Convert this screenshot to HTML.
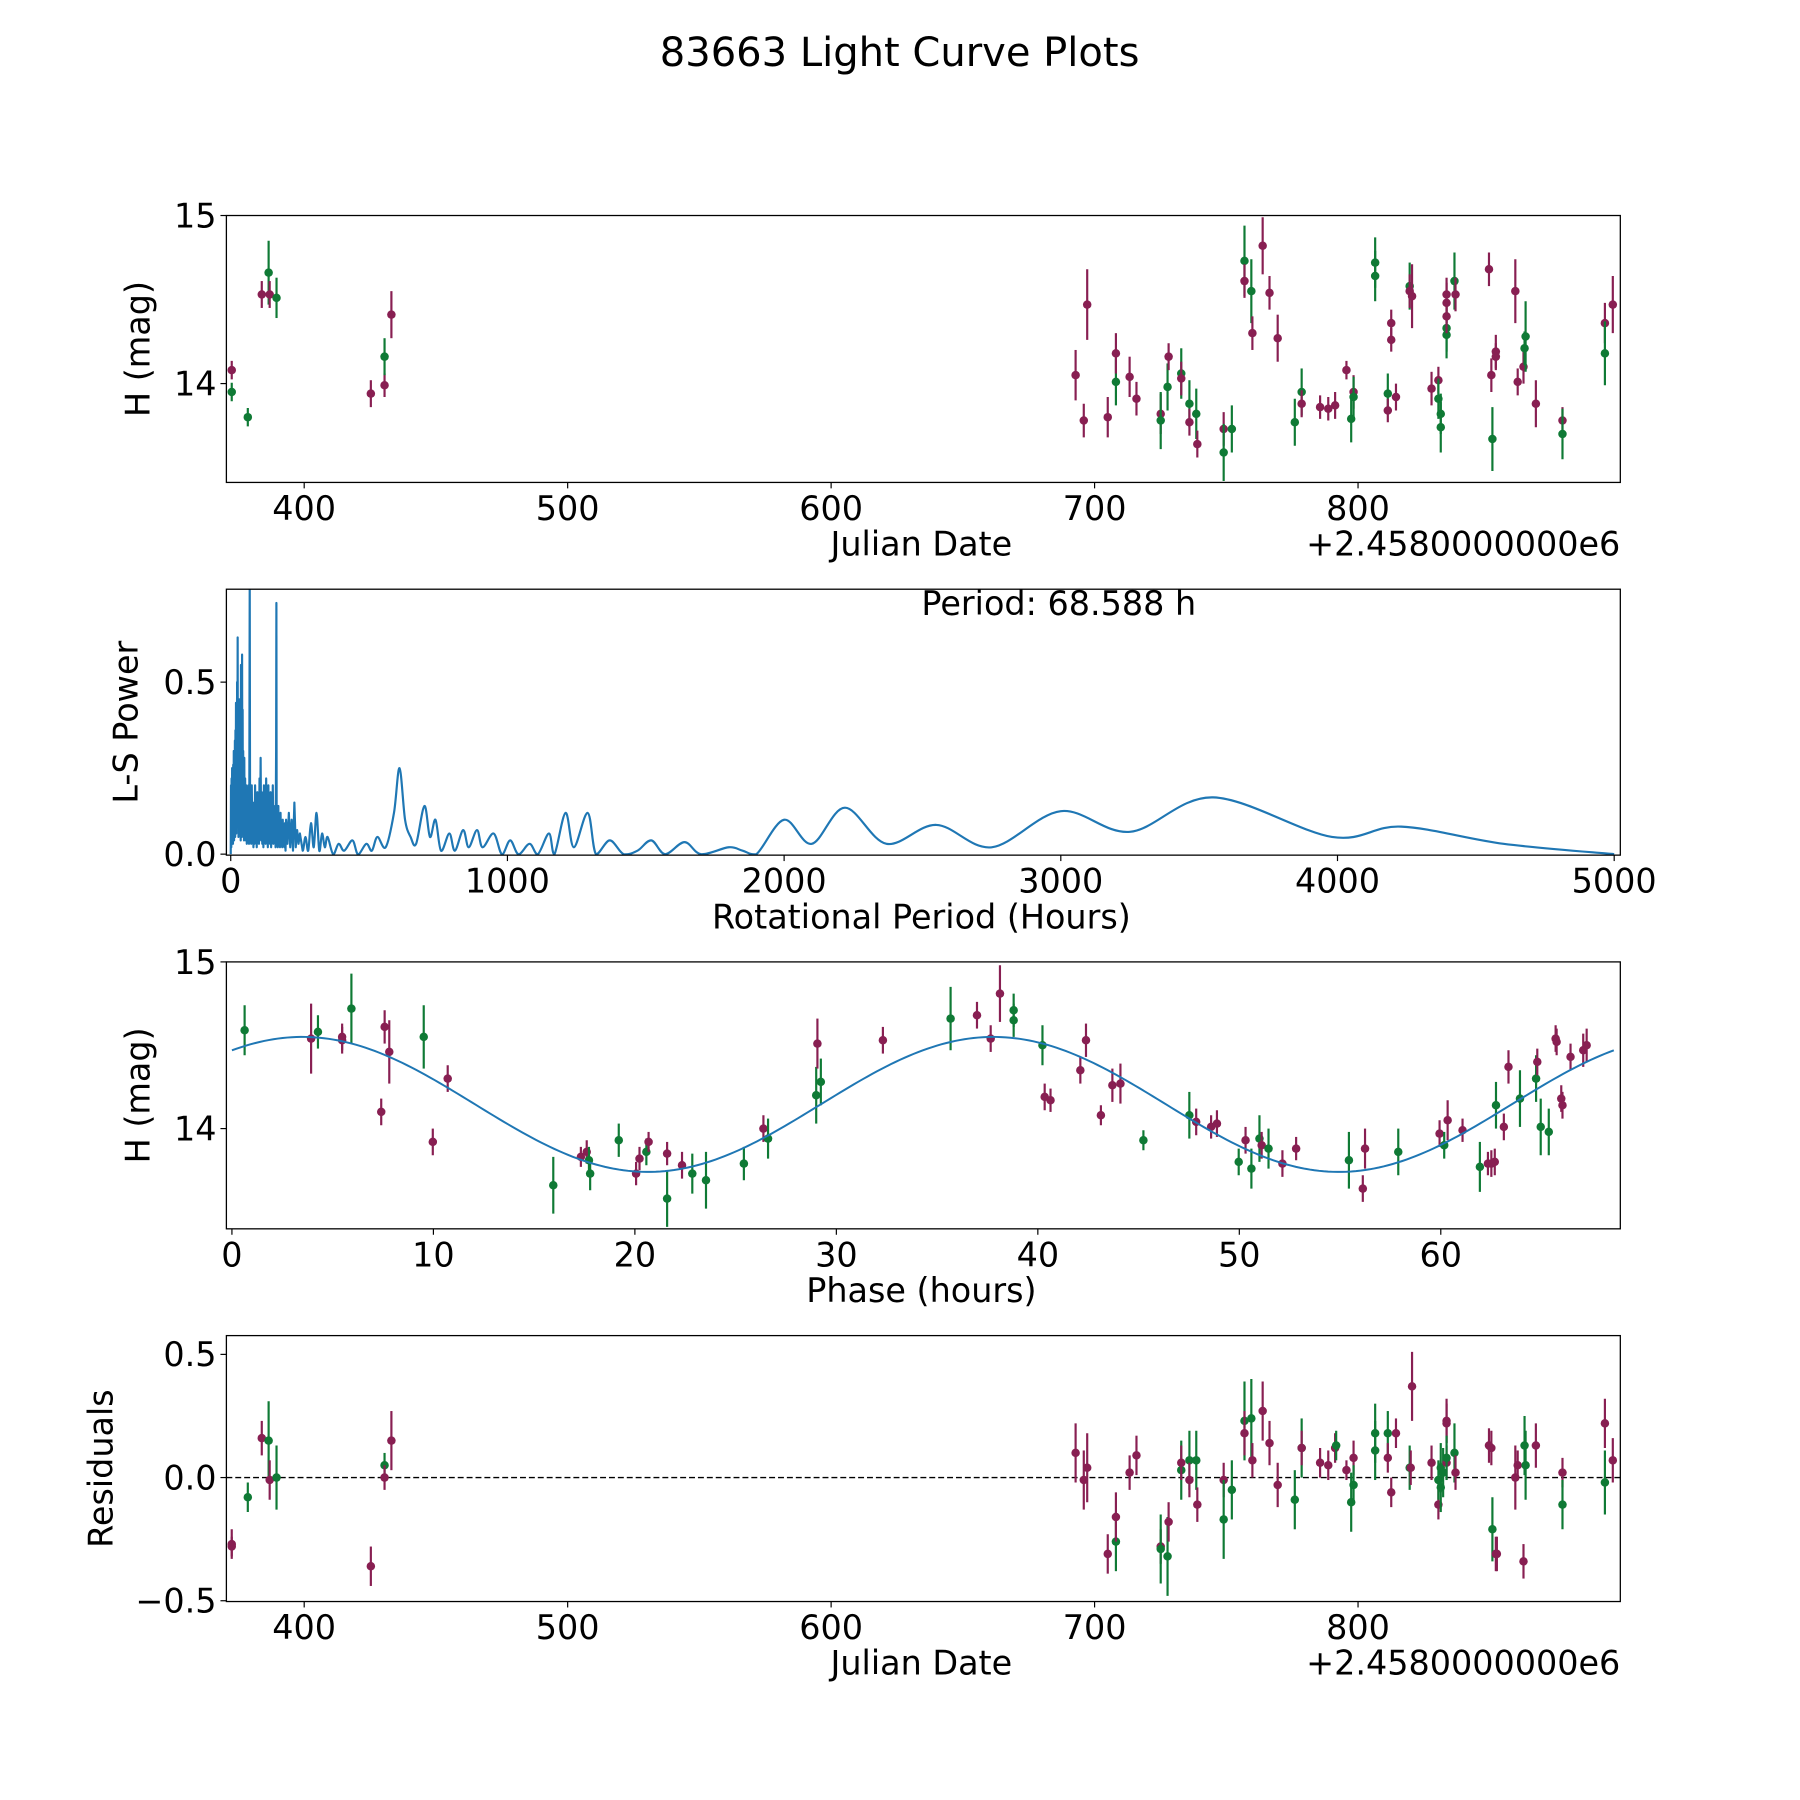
<!DOCTYPE html>
<html><head><meta charset="utf-8"><style>
html,body{margin:0;padding:0;background:#fff}
svg{display:block;font-family:"DejaVu Sans","Liberation Sans",sans-serif}
</style></head><body>
<svg id="fig" width="1800" height="1800" viewBox="0 0 1800 1800" xmlns="http://www.w3.org/2000/svg">
<rect width="1800" height="1800" fill="#fff"/>
<g id="root" transform="scale(0.9886)">
<text x="910" y="67" font-size="40.5" text-anchor="middle">83663 Light Curve Plots</text>
</g>
</svg>
<script>
// ---------- Panel 1: raw light curve ----------
const p1Date=[372.5,372.5,378.6,383.9,386.5,386.9,389.5,425.3,430.5,430.5,433.1,692.8,695.9,697.2,705.0,708.1,708.1,713.3,715.9,725.1,725.1,727.7,728.1,732.9,732.9,736.0,736.0,738.6,739.0,749.0,749.0,752.1,756.9,756.9,759.5,759.9,763.8,766.4,769.5,776.0,778.6,778.6,785.6,788.7,791.3,795.6,797.4,798.3,798.3,806.5,806.5,811.3,811.3,812.6,812.6,814.4,819.6,819.6,820.5,827.9,830.5,830.5,831.4,831.4,833.6,833.6,833.6,833.6,833.6,836.6,837.0,849.7,850.6,851.0,852.3,852.3,859.7,860.6,862.8,863.2,863.6,867.5,877.6,877.6,893.7,893.7,896.7];
const p1Mag=[14.08,13.95,13.80,14.53,14.66,14.53,14.51,13.94,13.99,14.16,14.41,14.05,13.78,14.47,13.80,14.01,14.18,14.04,13.91,13.82,13.78,13.98,14.16,14.06,14.03,13.88,13.77,13.82,13.64,13.73,13.59,13.73,14.73,14.61,14.55,14.30,14.82,14.54,14.27,13.77,13.95,13.88,13.86,13.85,13.87,14.08,13.79,13.95,13.92,14.64,14.72,13.94,13.84,14.36,14.26,13.92,14.58,14.55,14.52,13.97,14.02,13.91,13.82,13.74,14.33,14.29,14.53,14.48,14.40,14.61,14.53,14.68,14.05,13.67,14.19,14.16,14.55,14.01,14.10,14.21,14.28,13.88,13.78,13.70,14.36,14.18,14.47];
const p1Err=[.055,.055,.055,.08,.19,.08,.12,.08,.07,.11,.14,.15,.10,.21,.12,.14,.12,.12,.10,.12,.17,.14,.08,.15,.10,.14,.08,.15,.08,.10,.17,.14,.21,.10,.19,.10,.17,.10,.14,.14,.14,.08,.07,.07,.08,.055,.14,.10,.12,.15,.15,.12,.07,.08,.07,.08,.14,.10,.19,.10,.08,.12,.12,.15,.14,.14,.10,.12,.10,.17,.10,.10,.10,.19,.10,.08,.19,.08,.10,.10,.21,.14,.08,.15,.12,.19,.17];
const p1Filter=['m','g','g','m','g','m','g','m','m','g','m','m','m','m','m','g','m','m','m','m','g','g','m','g','m','g','m','g','m','m','g','g','g','m','g','m','m','m','m','g','g','m','m','m','m','m','g','m','g','g','g','g','m','m','m','m','g','m','m','m','m','g','g','g','g','g','m','m','m','g','m','m','m','g','m','m','m','m','m','g','g','m','m','g','m','g','m'];
const p1XTicks=[400,500,600,700,800];
const p1YTicks=[14,15];

// ---------- Panel 2: periodogram ----------
const lsPeriod=[0,1,2,3,4,5,6,7,8,9,10,11,12,13,14,15,16,17,18,19,20,21,22,23,24,25,26,27,28,29,30,31,32,33,34,35,36,37,38,39,40,41,42,43,44,45,46,47,48,49,50,52,54,56,58,60,62,64,66,67,68.6,70,72,74,76,78,80,82,84,86,88,90,92,94,96,98,100,102,104,106,108,110,112,114,116,118,120,122,124,126,128,130,132,134,136,138,140,142,144,146,148,150,152,154,156,158,160,162,164,165,166,168,170,172,174,176,178,180,182,184,186,188,190,192,194,196,198,200,205,210,215,220,225,230,235,240,245,250,260,270,280,290,300,310,320,330,340,350,370,390,410,440,460,490,510,530,560,590,610,630,650,670,700,720,740,760,790,810,840,860,890,910,950,980,1010,1040,1080,1110,1150,1170,1210,1240,1290,1320,1370,1420,1470,1520,1570,1640,1700,1800,1850,1900,2000,2100,2220,2370,2550,2750,3000,3250,3550,3980,4230,4600,5000];
const lsPower=[0.0,0.2,0.02,0.22,0.04,0.25,0.05,0.18,0.03,0.26,0.06,0.3,0.04,0.28,0.08,0.33,0.05,0.36,0.1,0.44,0.06,0.32,0.12,0.5,0.08,0.63,0.1,0.4,0.05,0.35,0.12,0.45,0.06,0.3,0.1,0.38,0.04,0.55,0.1,0.5,0.05,0.58,0.12,0.42,0.06,0.3,0.08,0.25,0.04,0.28,0.05,0.22,0.04,0.2,0.03,0.18,0.05,0.2,0.03,0.1,0.8,0.05,0.18,0.03,0.2,0.04,0.12,0.02,0.15,0.03,0.2,0.04,0.12,0.02,0.18,0.04,0.15,0.03,0.22,0.05,0.28,0.04,0.18,0.03,0.15,0.02,0.2,0.04,0.12,0.03,0.22,0.05,0.14,0.02,0.2,0.04,0.15,0.03,0.18,0.02,0.16,0.04,0.2,0.03,0.12,0.05,0.14,0.02,0.3,0.73,0.05,0.12,0.02,0.14,0.03,0.1,0.02,0.12,0.03,0.09,0.02,0.1,0.03,0.08,0.02,0.09,0.01,0.1,0.03,0.12,0.02,0.1,0.01,0.15,0.02,0.07,0.03,0.06,0.01,0.05,0.01,0.09,0.02,0.12,0.01,0.06,0.02,0.05,0.0,0.03,0.01,0.04,0.0,0.03,0.01,0.05,0.02,0.12,0.25,0.1,0.05,0.03,0.14,0.05,0.1,0.01,0.06,0.01,0.07,0.02,0.07,0.02,0.06,0.0,0.04,0.0,0.03,0.0,0.06,0.0,0.12,0.02,0.12,0.0,0.04,0.0,0.01,0.04,0.0,0.035,0.0,0.02,0.01,0.0,0.1,0.03,0.135,0.03,0.085,0.02,0.125,0.065,0.165,0.05,0.08,0.03,0.0];
const lsXTicks=[0,1000,2000,3000,4000,5000];
const lsYTicks=[0.0,0.5];
const bestPeriod=68.588;

// ---------- Panel 3: phased light curve ----------
const p3Phase=[0.63,3.93,4.27,5.47,5.47,5.93,7.41,7.58,7.81,9.52,9.97,10.71,15.95,17.32,17.61,17.72,17.78,19.20,20.06,20.23,20.57,20.68,21.60,21.60,22.34,22.85,23.53,25.41,26.38,26.61,29.00,29.06,29.23,32.31,35.67,36.98,37.66,38.12,38.80,38.80,40.23,40.34,40.63,42.11,42.39,43.13,43.70,44.10,45.24,47.52,47.86,48.60,48.89,49.97,50.31,50.60,51.00,51.11,51.45,52.14,52.82,55.44,56.13,56.24,57.89,59.94,60.17,60.34,61.08,61.94,62.34,62.51,62.68,62.74,63.13,63.36,63.93,64.73,64.79,64.96,65.36,65.98,66.04,65.70,65.75,66.44,67.07,67.24];
const p3Mag=[14.59,14.54,14.58,14.53,14.55,14.72,14.10,14.61,14.46,14.55,13.92,14.30,13.66,13.83,13.86,13.81,13.73,13.93,13.73,13.82,13.86,13.92,13.85,13.58,13.78,13.73,13.69,13.79,14.00,13.94,14.20,14.51,14.28,14.53,14.66,14.68,14.54,14.81,14.65,14.71,14.50,14.19,14.17,14.35,14.53,14.08,14.26,14.27,13.93,14.08,14.04,14.01,14.03,13.80,13.93,13.76,13.94,13.90,13.88,13.79,13.88,13.81,13.64,13.88,13.86,13.97,13.90,14.05,13.99,13.77,13.79,13.79,13.80,14.14,14.01,14.37,14.18,14.30,14.40,14.01,13.98,14.18,14.14,14.54,14.52,14.43,14.47,14.50];
const p3Err=[.15,.21,.10,.08,.08,.21,.08,.10,.19,.19,.08,.08,.17,.06,.07,.08,.10,.10,.07,.07,.08,.06,.07,.17,.08,.12,.17,.10,.08,.12,.17,.15,.14,.08,.19,.08,.08,.17,.10,.10,.12,.08,.07,.08,.10,.06,.10,.12,.06,.14,.08,.07,.08,.08,.08,.12,.14,.08,.12,.08,.07,.17,.08,.12,.14,.08,.08,.12,.07,.15,.07,.08,.08,.14,.08,.10,.17,.14,.08,.17,.14,.08,.08,.08,.08,.08,.10,.10];
const p3Filter=['g','m','g','m','m','g','m','m','m','g','m','m','g','m','m','g','g','g','m','m','g','m','m','g','m','g','g','g','m','g','g','m','g','m','g','m','m','m','g','g','g','m','m','m','m','m','m','m','g','g','m','m','m','g','m','g','g','m','g','m','m','g','m','m','g','m','g','m','m','g','m','m','m','g','m','m','g','g','m','g','g','m','m','m','m','m','m','m'];
const fitMean=14.145, fitAmp=0.405, fitPeakPhase=3.5;
const p3XTicks=[0,10,20,30,40,50,60];
const p3YTicks=[14,15];

// ---------- Panel 4: residuals ----------
const p4Date=[372.5,372.5,378.6,383.9,386.5,386.9,389.5,425.3,430.5,430.5,433.1,692.8,695.9,697.2,705.0,708.1,708.1,713.3,715.9,725.1,725.1,727.7,728.1,732.9,732.9,736.0,736.0,738.6,739.0,749.0,749.0,752.1,756.9,756.9,759.5,759.9,763.8,766.4,769.5,776.0,778.6,778.6,785.6,788.7,791.3,791.7,795.6,797.4,798.3,798.3,806.5,806.5,811.3,811.3,812.6,814.4,819.6,820.0,820.5,827.9,830.5,830.5,831.4,831.4,832.3,833.6,833.6,833.6,833.6,836.6,837.0,849.7,850.6,851.0,852.3,852.7,859.7,860.6,862.8,863.2,863.6,867.5,877.6,877.6,893.7,893.7,896.7];
const p4Resid=[-0.27,-0.28,-0.08,0.16,0.15,-0.01,0.00,-0.36,0.05,0.00,0.15,0.10,-0.01,0.04,-0.31,-0.26,-0.16,0.02,0.09,-0.28,-0.29,-0.32,-0.18,0.03,0.06,0.07,-0.01,0.07,-0.11,-0.01,-0.17,-0.05,0.23,0.18,0.24,0.07,0.27,0.14,-0.03,-0.09,0.12,0.12,0.06,0.05,0.12,0.13,0.03,-0.10,0.08,-0.03,0.18,0.11,0.18,0.08,-0.06,0.18,0.04,0.04,0.37,0.06,-0.11,-0.01,-0.04,0.04,0.02,0.22,0.23,0.06,0.08,0.10,0.02,0.13,0.12,-0.21,-0.31,-0.31,0.00,0.05,-0.34,0.13,0.05,0.13,0.02,-0.11,0.22,-0.02,0.07];
const p4Err=[.06,.04,.06,.07,.16,.08,.13,.08,.05,.05,.12,.12,.12,.14,.08,.12,.10,.07,.08,.07,.14,.16,.08,.12,.07,.12,.07,.12,.07,.07,.16,.12,.16,.09,.16,.07,.12,.09,.09,.12,.12,.07,.06,.06,.06,.06,.04,.12,.07,.08,.12,.12,.09,.06,.06,.06,.09,.07,.14,.07,.06,.08,.10,.10,.10,.08,.09,.07,.09,.12,.07,.07,.07,.13,.07,.07,.13,.06,.07,.12,.14,.09,.06,.10,.10,.13,.09];
const p4Filter=['m','m','g','m','g','m','g','m','g','m','m','m','m','m','m','g','m','m','m','m','g','g','m','g','m','g','m','g','m','m','g','g','g','m','g','m','m','m','m','g','g','m','m','m','m','g','m','g','m','g','g','g','g','m','m','m','g','m','m','m','m','g','g','g','g','m','m','m','g','g','m','m','m','g','m','m','m','m','m','g','g','m','m','g','m','g','m'];
const p4XTicks=[400,500,600,700,800];
const p4YTicks=[-0.5,0.0,0.5];

// ---------- rendering ----------
const NS='http://www.w3.org/2000/svg';
const svg=document.getElementById('root');
const COL={m:'#881f52',g:'#0f7a35'};
const FS=33.8;
function mk(tag,attrs,parent){const e=document.createElementNS(NS,tag);for(const k in attrs)e.setAttribute(k,attrs[k]);(parent||svg).appendChild(e);return e;}
function lin(d0,d1,r0,r1){return v=>r0+(v-d0)*(r1-r0)/(d1-d0);}

const panels=[
 {name:'raw-light-curve',L:229,R:1639,T:218,B:488,x:lin(400,800,307.7,1373.7),y:lin(14,15,388,218)},
 {name:'periodogram',L:229,R:1639,T:596,B:865,x:lin(0,5000,233.4,1632.8),y:lin(0,0.5,864,690)},
 {name:'phased-light-curve',L:229,R:1639,T:973,B:1243,x:lin(0,60,234.6,1457.4),y:lin(14,15,1141.6,973)},
 {name:'residuals',L:229,R:1639,T:1351,B:1620,x:lin(400,800,307.7,1373.7),y:lin(0,0.5,1494.6,1370)}
];

function axes(p,i,xt,yt,xfmt,yfmt,xlabel,ylabel,ylabelX,offset){
  const g=mk('g',{});
  
  
  const cp=mk('clipPath',{id:'clip'+i},g);
  mk('rect',{x:p.L,y:p.T,width:p.R-p.L,height:p.B-p.T},cp);
  xt.forEach(v=>{const X=p.x(v);
    const t=mk('line',{x1:X,x2:X,y1:p.B,y2:p.B+6,stroke:'#000','stroke-width':1.2},g);
    
    
    const l=mk('text',{x:X,y:p.B+38,'font-size':FS,'text-anchor':'middle'},g);
    l.textContent=xfmt(v);
    
    
  });
  yt.forEach(v=>{const Y=p.y(v);
    const t=mk('line',{x1:p.L-6,x2:p.L,y1:Y,y2:Y,stroke:'#000','stroke-width':1.2},g);
    
    
    const l=mk('text',{x:p.L-10,y:Y+12,'font-size':FS,'text-anchor':'end'},g);
    l.textContent=yfmt(v);
    
    
  });
  const xl=mk('text',{x:932,y:p.B+74,'font-size':FS,'text-anchor':'middle'},g);
  xl.textContent=xlabel;
  
  
  const yc=(p.T+p.B)/2;
  const yl=mk('text',{x:ylabelX,y:yc,'font-size':FS,'text-anchor':'middle',transform:`rotate(-90 ${ylabelX} ${yc})`},g);
  yl.textContent=ylabel;
  
  
  if(offset){const o=mk('text',{x:p.R,y:p.B+74,'font-size':FS,'text-anchor':'end'},g);
    o.textContent=offset;
    
    }
  return g;
}
function frame(p,g){const f=mk('rect',{x:p.L,y:p.T,width:p.R-p.L,height:p.B-p.T,fill:'none',stroke:'#000','stroke-width':1.3},g);
  
  }
function errpts(p,i,xs,ys,es,fs,g){
  const gg=mk('g',{'clip-path':`url(#clip${i})`},g);
  
  
  const n=Math.min(xs.length,ys.length,es.length,fs.length);
  for(let k=0;k<n;k++){const X=p.x(xs[k]),c=COL[fs[k]]||COL.m;
    const e=mk('line',{x1:X,x2:X,y1:p.y(ys[k]-es[k]),y2:p.y(ys[k]+es[k]),stroke:c,'stroke-width':2.2},gg);
    
    
    const d=mk('circle',{cx:X,cy:p.y(ys[k]),r:4.3,fill:c},gg);
    
    
  }
}
const fmtInt=v=>String(v), fmt1=v=>(v<0?'\u2212':'')+Math.abs(v).toFixed(1);

// Panel 1
let P=panels[0];
let g=axes(P,0,p1XTicks,p1YTicks,fmtInt,fmtInt,'Julian Date','H (mag)',151,'+2.4580000000e6');
errpts(P,0,p1Date,p1Mag,p1Err,p1Filter,g); frame(P,g);

// Panel 2
P=panels[1];
g=axes(P,1,lsXTicks,lsYTicks,fmtInt,fmt1,'Rotational Period (Hours)','L-S Power',139,null);
{const pts=lsPeriod.map((v,k)=>[P.x(v),P.y(lsPower[k])]);
 let d='M'+pts[0][0]+','+pts[0][1];
 for(let k=0;k<pts.length-1;k++){
   if(lsPeriod[k+1]<=260){d+=` L${pts[k+1][0]},${pts[k+1][1]}`;continue;}
   const p0=pts[Math.max(0,k-1)],p1=pts[k],p2=pts[k+1],p3=pts[Math.min(pts.length-1,k+2)];
   const c1x=p1[0]+(p2[0]-p0[0])/6,c1y=Math.min(P.B,p1[1]+(p2[1]-p0[1])/6),c2x=p2[0]-(p3[0]-p1[0])/6,c2y=Math.min(P.B,p2[1]-(p3[1]-p1[1])/6);
   d+=` C${c1x},${c1y} ${c2x},${c2y} ${p2[0]},${p2[1]}`;}
 const ln=mk('path',{d,fill:'none',stroke:'#1f77b4','stroke-width':2.2,'stroke-linejoin':'round','clip-path':'url(#clip1)'},g);
 
 
 const t=mk('text',{x:1071,y:622,'font-size':FS,'text-anchor':'middle'},g);
 t.textContent='Period: '+bestPeriod.toFixed(3)+' h';
 
 }
frame(P,g);

// Panel 3
P=panels[2];
g=axes(P,2,p3XTicks,p3YTicks,fmtInt,fmtInt,'Phase (hours)','H (mag)',151,null);
errpts(P,2,p3Phase,p3Mag,p3Err,p3Filter,g);
{let d='';for(let k=0;k<=300;k++){const ph=bestPeriod*k/300;const m=fitMean+fitAmp*Math.cos(2*Math.PI*(ph-fitPeakPhase)/(bestPeriod/2));d+=(k?'L':'M')+P.x(ph)+','+P.y(m);}
 const c=mk('path',{d,fill:'none',stroke:'#1f77b4','stroke-width':2,'clip-path':'url(#clip2)'},g);
 
 }
frame(P,g);

// Panel 4
P=panels[3];
g=axes(P,3,p4XTicks,p4YTicks,fmtInt,fmt1,'Julian Date','Residuals',114,'+2.4580000000e6');
{const z=mk('line',{x1:P.L,x2:P.R,y1:P.y(0),y2:P.y(0),stroke:'#000','stroke-width':1.5,'stroke-dasharray':'6,3'},g);
 
 }
errpts(P,3,p4Date,p4Resid,p4Err,p4Filter,g); frame(P,g);
</script>
</body></html>
